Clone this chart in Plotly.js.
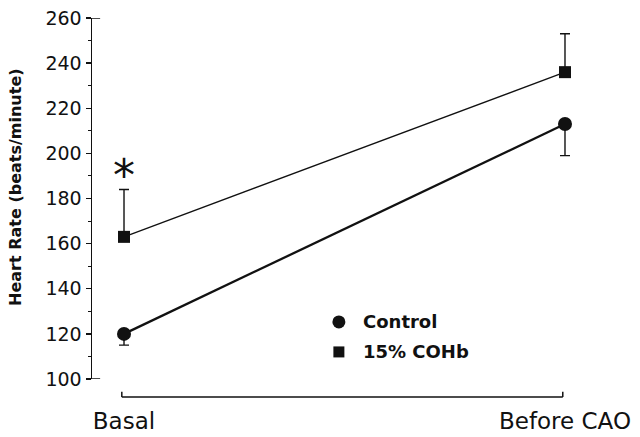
<!DOCTYPE html>
<html>
<head>
<meta charset="utf-8">
<script src="https://cdn.plot.ly/plotly-3.0.1.min.js"></script>
<style>
  html, body { margin: 0; padding: 0; background: #fff; }
  #chart { width: 640px; height: 437px; }
</style>
</head>
<body>
<div id="chart"></div>
<script>
// Heart rate at two time points, control vs. 15% carboxyhemoglobin
const phases = ["Basal", "Before CAO"];
const phasePos = [0, 1];
const controlRate = [120, 213];
const controlErrUp = [0, 0];
const controlErrDown = [5, 14];
const cohbRate = [163, 236];
const cohbErrUp = [21, 17];
const cohbErrDown = [0, 0];
const yTicks = [100, 120, 140, 160, 180, 200, 220, 240, 260];

const ink = "#111";
const face = "DejaVu Sans, sans-serif";

const traces = [
  {
    x: phasePos, y: cohbRate, name: "15% COHb",
    mode: "lines+markers", type: "scatter",
    line: { color: ink, width: 1.3 },
    marker: { symbol: "square", size: 12, color: ink },
    error_y: { type: "data", symmetric: false, array: cohbErrUp, arrayminus: cohbErrDown,
               color: ink, thickness: 1.4, width: 5 },
    showlegend: false, hoverinfo: "none"
  },
  {
    x: phasePos, y: controlRate, name: "Control",
    mode: "lines+markers", type: "scatter",
    line: { color: ink, width: 2.3 },
    marker: { symbol: "circle", size: 14, color: ink },
    error_y: { type: "data", symmetric: false, array: controlErrUp, arrayminus: controlErrDown,
               color: ink, thickness: 1.4, width: 5 },
    showlegend: false, hoverinfo: "none"
  }
];

const layout = {
  width: 640, height: 437,
  margin: { l: 92, r: 40, t: 18, b: 58 },
  paper_bgcolor: "#fff", plot_bgcolor: "#fff",
  xaxis: {
    range: [-0.0726, 1.0794],
    tickvals: phasePos, ticktext: phases,
    showline: false, showgrid: false, zeroline: false, ticks: "",
    ticklabelstandoff: 26,
    tickfont: { family: face, size: 23, color: ink },
    fixedrange: true
  },
  yaxis: {
    range: [100, 260],
    tickvals: yTicks,
    showline: true, linecolor: ink, linewidth: 1.5,
    showgrid: false, zeroline: false,
    ticks: "outside", ticklen: 5, tickwidth: 1.3, tickcolor: ink,
    minor: { dtick: 10, ticks: "outside", ticklen: 3, tickwidth: 1, tickcolor: ink },
    tickfont: { family: face, size: 19, color: ink }, ticklabelstandoff: 0,
    fixedrange: true
  },
  shapes: [
    // caps at the top and bottom of the value axis
    { type: "line", xref: "paper", yref: "y", x0: 0, x1: 0.016, y0: 260, y1: 260, line: { color: ink, width: 1.5 } },
    { type: "line", xref: "paper", yref: "y", x0: 0, x1: 0.016, y0: 100, y1: 100, line: { color: ink, width: 1.5 } },
    // bracket under the two phases
    { type: "line", xref: "x", yref: "paper", x0: -0.005, x1: 0.995, y0: -0.05, y1: -0.05, line: { color: ink, width: 1.5 } },
    { type: "line", xref: "x", yref: "paper", x0: -0.005, x1: -0.005, y0: -0.05, y1: -0.035, line: { color: ink, width: 1.5 } },
    { type: "line", xref: "x", yref: "paper", x0: 0.995, x1: 0.995, y0: -0.05, y1: -0.035, line: { color: ink, width: 1.5 } },
    // legend symbols
    { type: "circle", xref: "paper", yref: "paper", xsizemode: "pixel", ysizemode: "pixel",
      xanchor: 0.486, yanchor: 0.158, x0: -6.5, x1: 6.5, y0: -6.5, y1: 6.5,
      fillcolor: ink, line: { width: 0 } },
    { type: "rect", xref: "paper", yref: "paper", xsizemode: "pixel", ysizemode: "pixel",
      xanchor: 0.486, yanchor: 0.075, x0: -5.5, x1: 5.5, y0: -5.5, y1: 5.5,
      fillcolor: ink, line: { width: 0 } }
  ],
  annotations: [
    { text: "<b>Heart Rate (beats/minute)</b>", xref: "paper", yref: "paper",
      x: 0, xshift: -76, xanchor: "center", y: 0.532, yanchor: "middle",
      textangle: -90, showarrow: false,
      font: { family: face, size: 16, color: ink } },
    { text: "<b>Control</b>", xref: "paper", yref: "paper", x: 0.529, y: 0.158,
      xanchor: "left", yanchor: "middle", showarrow: false,
      font: { family: face, size: 18, color: ink } },
    { text: "<b>15% COHb</b>", xref: "paper", yref: "paper", x: 0.529, y: 0.075,
      xanchor: "left", yanchor: "middle", showarrow: false,
      font: { family: face, size: 18, color: ink } },
    { text: "*", xref: "x", yref: "y", x: 0, y: 194, showarrow: false,
      yanchor: "middle", yshift: -9,
      font: { family: face, size: 44, color: ink } }
  ]
};

Plotly.newPlot("chart", traces, layout, { staticPlot: true, displayModeBar: false });
</script>
</body>
</html>
